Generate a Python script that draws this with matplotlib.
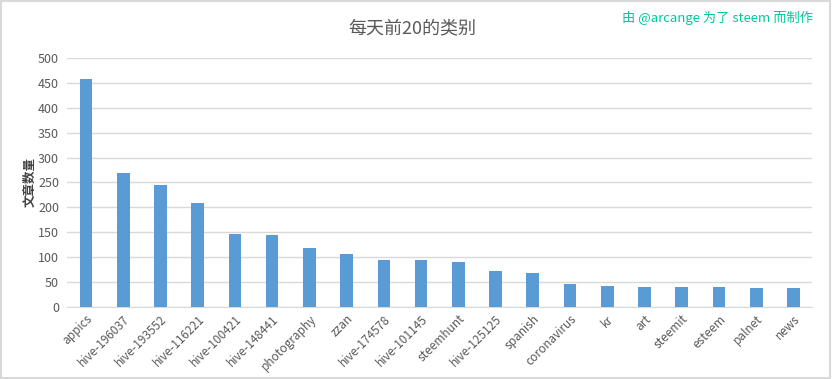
import numpy as np
import matplotlib.pyplot as plt

plt.rcParams['font.family'] = ['Noto Sans CJK SC', 'DejaVu Sans']

###DATA###
categories = ['appics', 'hive-196037', 'hive-193552', 'hive-116221', 'hive-100421',
              'hive-148441', 'photography', 'zzan', 'hive-174578', 'hive-101145',
              'steemhunt', 'hive-125125', 'spanish', 'coronavirus', 'kr',
              'art', 'steemit', 'esteem', 'palnet', 'news']
counts = [458, 270, 244, 209, 147, 145, 119, 107, 95, 95,
          91, 73, 68, 46, 42, 40, 40, 40, 38, 38]
yticks = [0, 50, 100, 150, 200, 250, 300, 350, 400, 450, 500]

text_col = '#595959'
grid_col = '#d9d9d9'

###PLOT###
fig = plt.figure(figsize=(8.32, 3.79), dpi=100)
ax = fig.add_axes([0.081, 0.19, 0.895, 0.657])

x = np.arange(len(categories))
ax.bar(x, counts, width=0.34, color='#5b9bd5', zorder=3)

ax.set_xlim(-0.5, len(categories) - 0.5)
ax.set_ylim(0, 500)
ax.set_yticks(yticks)
ax.set_yticklabels([str(v) for v in yticks], color=text_col, fontsize=9)
ax.set_xticks(x)
ax.set_xticklabels(categories, rotation=45, ha='right', rotation_mode='anchor',
                   color=text_col, fontsize=8.5)
ax.tick_params(axis='both', length=0, pad=6)
ax.tick_params(axis='x', pad=4)

ax.grid(axis='y', color=grid_col, linewidth=1, zorder=0)
for s in ['top', 'right', 'left']:
    ax.spines[s].set_visible(False)
ax.spines['bottom'].set_color(grid_col)

ax.set_ylabel('文章数量', color='#404040', fontsize=9, fontweight='bold', labelpad=1)

fig.text(0.495, 0.925, '每天前20的类别', ha='center', va='center',
         color=text_col, fontsize=13)
fig.text(0.977, 0.953, '由 @arcange 为了 steem 而制作', ha='right', va='center',
         color='#00c8a0', fontsize=9.5)

# light border round the picture
fig.patches.append(plt.Rectangle((0.001, 0.002), 0.997, 0.995, transform=fig.transFigure,
                                 fill=False, edgecolor='#d9d9d9', linewidth=1.5))

plt.savefig('out.png', dpi=100)
